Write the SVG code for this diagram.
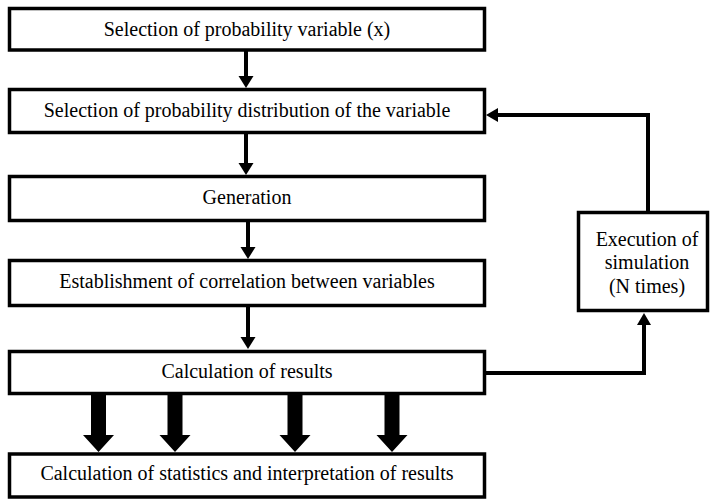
<svg xmlns="http://www.w3.org/2000/svg" width="710" height="500" viewBox="0 0 710 500">
<defs>
<style>
.box{fill:#fff;stroke:#000;stroke-width:3.5}
text{font-family:'Liberation Serif','Times New Roman',Times,serif;font-size:20px;fill:#000;text-anchor:middle}
.ln{fill:none;stroke:#000;stroke-width:4}
.ah{fill:#000}
</style>
</defs>
<rect width="710" height="500" fill="#fff"/>
<g id="connectors">
<line class="ln" x1="246" y1="50" x2="246" y2="78"/>
<polygon class="ah" points="238.5,76 253.5,76 246,88"/>
<line class="ln" x1="246" y1="133" x2="246" y2="164"/>
<polygon class="ah" points="238.5,163 253.5,163 246,175"/>
<line class="ln" x1="248" y1="222" x2="248" y2="248"/>
<polygon class="ah" points="240.5,247 255.5,247 248,259"/>
<line class="ln" x1="248" y1="307" x2="248" y2="338"/>
<polygon class="ah" points="240.5,337 255.5,337 248,349"/>
<polyline class="ln" points="648,212 648,115 497,115"/>
<polygon class="ah" points="486,115 498,108 498,122"/>
<polyline class="ln" points="486,373 644,373 644,324"/>
<polygon class="ah" points="644,313 637,325 651,325"/>
<polygon class="ah" points="91,395 106,395 106,435 114,435 98.5,452 83,435 91,435"/>
<polygon class="ah" points="167.5,395 182.5,395 182.5,435 190.5,435 175,452 159.5,435 167.5,435"/>
<polygon class="ah" points="287.5,395 302.5,395 302.5,435 310.5,435 295,452 279.5,435 287.5,435"/>
<polygon class="ah" points="384.5,395 399.5,395 399.5,435 407.5,435 392,452 376.5,435 384.5,435"/>
</g>
<g id="n1"><rect class="box" x="9.5" y="8.5" width="475" height="41.5"/><text x="247" y="36" font-family="Liberation Serif">Selection of probability variable (x)</text></g>
<g id="n2"><rect class="box" x="9.5" y="89.5" width="475" height="43"/><text x="247" y="117">Selection of probability distribution of the variable</text></g>
<g id="n3"><rect class="box" x="9.5" y="176.5" width="475" height="44"/><text x="247" y="204">Generation</text></g>
<g id="n4"><rect class="box" x="9.5" y="260.5" width="475" height="45"/><text x="247" y="288">Establishment of correlation between variables</text></g>
<g id="n5"><rect class="box" x="9.5" y="351.5" width="475" height="42"/><text x="247" y="378">Calculation of results</text></g>
<g id="n6"><rect class="box" x="9.5" y="454" width="475" height="43"/><text x="247" y="480">Calculation of statistics and interpretation of results</text></g>
<g id="n7"><rect class="box" x="578.5" y="212.5" width="129" height="98"/><text x="647" y="246">Execution of</text><text x="647" y="269">simulation</text><text x="647" y="293">(N times)</text></g>
</svg>
